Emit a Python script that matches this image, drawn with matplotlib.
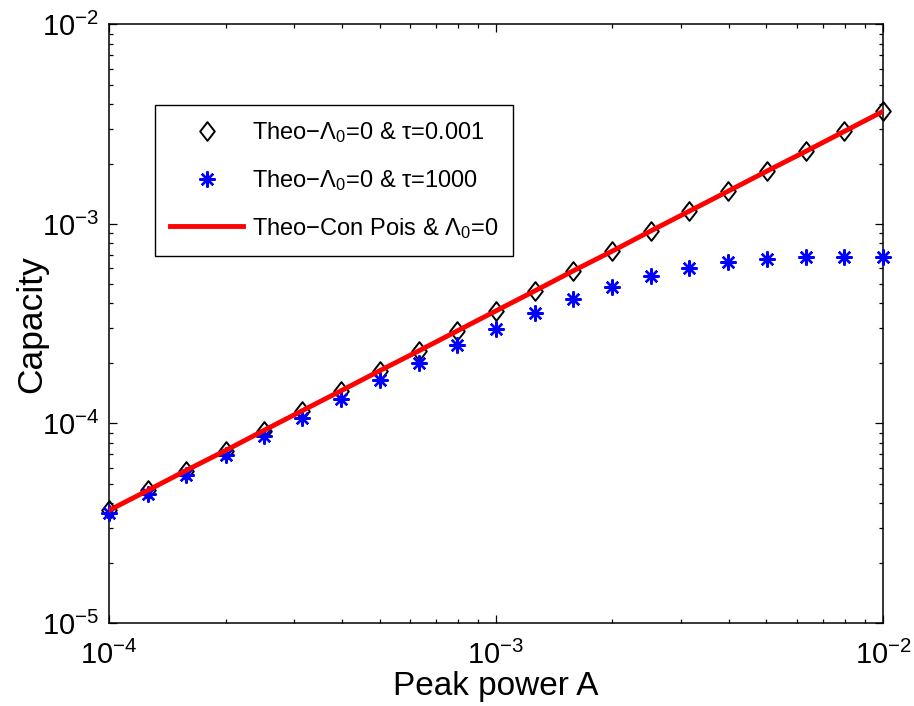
import matplotlib
matplotlib.use("Agg")
import matplotlib.pyplot as plt
from matplotlib.path import Path
from matplotlib.ticker import LogLocator, NullFormatter

plt.rcParams["font.family"] = ["Liberation Sans", "DejaVu Sans"]
plt.rcParams["mathtext.fontset"] = "custom"
plt.rcParams["mathtext.rm"] = "Liberation Sans"
plt.rcParams["mathtext.it"] = "Liberation Sans"
plt.rcParams["mathtext.bf"] = "Liberation Sans:bold"

# Peak power A (10 points per decade)
peak_power = [1.00e-4, 1.26e-4, 1.58e-4, 2.00e-4, 2.51e-4, 3.16e-4, 3.98e-4,
              5.01e-4, 6.31e-4, 7.94e-4, 1.00e-3, 1.26e-3, 1.58e-3, 2.00e-3,
              2.51e-3, 3.16e-3, 3.98e-3, 5.01e-3, 6.31e-3, 7.94e-3, 1.00e-2]

# Theo - Lambda0=0, tau=0.001
cap_tau_small = [3.67e-5, 4.62e-5, 5.81e-5, 7.32e-5, 9.22e-5, 1.16e-4, 1.46e-4,
                 1.84e-4, 2.31e-4, 2.91e-4, 3.67e-4, 4.62e-4, 5.81e-4, 7.32e-4,
                 9.22e-4, 1.16e-3, 1.46e-3, 1.84e-3, 2.31e-3, 2.91e-3, 3.67e-3]

# Theo - Lambda0=0, tau=1000
cap_tau_large = [3.55e-5, 4.42e-5, 5.53e-5, 6.93e-5, 8.61e-5, 1.07e-4, 1.33e-4,
                 1.66e-4, 2.02e-4, 2.48e-4, 2.98e-4, 3.58e-4, 4.21e-4, 4.83e-4,
                 5.47e-4, 6.03e-4, 6.43e-4, 6.68e-4, 6.81e-4, 6.84e-4, 6.86e-4]

# Theo - continuous Poisson, Lambda0=0
cap_con_pois = [3.67e-5, 4.62e-5, 5.81e-5, 7.32e-5, 9.22e-5, 1.16e-4, 1.46e-4,
                1.84e-4, 2.31e-4, 2.91e-4, 3.67e-4, 4.62e-4, 5.81e-4, 7.32e-4,
                9.22e-4, 1.16e-3, 1.46e-3, 1.84e-3, 2.31e-3, 2.91e-3, 3.67e-3]

labels = [r"Theo$-\Lambda_0$=0 & $\tau$=0.001",
          r"Theo$-\Lambda_0$=0 & $\tau$=1000",
          r"Theo$-$Con Pois & $\Lambda_0$=0"]

diamond = Path([(0, 1), (0.78, 0), (0, -1), (-0.78, 0), (0, 1)],
               [Path.MOVETO, Path.LINETO, Path.LINETO, Path.LINETO, Path.CLOSEPOLY])

fig = plt.figure(figsize=(9.14, 7.06), dpi=100)
ax = fig.add_axes([0.1193, 0.1176, 0.8467, 0.8477])

ax.plot(peak_power, cap_tau_small, linestyle="none", marker=diamond,
        markersize=13.5, markerfacecolor="none", markeredgecolor="black",
        markeredgewidth=1.4, label=labels[0], zorder=3, clip_on=False)
ax.plot(peak_power, cap_tau_large, linestyle="none", marker=(8, 2, 0),
        markersize=11.5, color="#0000ff", markeredgewidth=1.7,
        label=labels[1], zorder=3, clip_on=False)
ax.plot(peak_power, cap_con_pois, color="#ff0000", linewidth=3.5,
        label=labels[2], zorder=4)

ax.set_xscale("log")
ax.set_yscale("log")
ax.set_xlim(1e-4, 1e-2)
ax.set_ylim(1e-5, 1e-2)

for axis in (ax.xaxis, ax.yaxis):
    axis.set_major_locator(LogLocator(base=10, numticks=10))
    axis.set_minor_locator(LogLocator(base=10, subs=range(2, 10), numticks=10))
    axis.set_minor_formatter(NullFormatter())

ax.tick_params(which="both", direction="in", top=True, right=True,
               labelsize=21, width=0.9)
ax.tick_params(which="major", length=6)
ax.tick_params(which="minor", length=3)
ax.tick_params(axis="x", pad=13)
ax.tick_params(axis="y", pad=7)
for sp in ax.spines.values():
    sp.set_linewidth(1.1)

ax.set_xlabel("Peak power A", fontsize=24)
ax.xaxis.label.set_verticalalignment("baseline")
ax.xaxis.set_label_coords(0.5, -(695 - 623) / 598)
ax.set_ylabel("Capacity", fontsize=25.5)
ax.yaxis.label.set_verticalalignment("center")
ax.yaxis.set_label_coords(-(109 - 32) / 775, 0.5)

leg = ax.legend(loc="upper left", bbox_to_anchor=(0.059, 0.866),
                fontsize=17, fancybox=False, framealpha=1,
                edgecolor="black", handlelength=3.1, labelspacing=0.97,
                borderpad=0.65, handletextpad=0.35, borderaxespad=0)
leg.get_frame().set_linewidth(1.0)

fig.savefig("out.png", dpi=100)
